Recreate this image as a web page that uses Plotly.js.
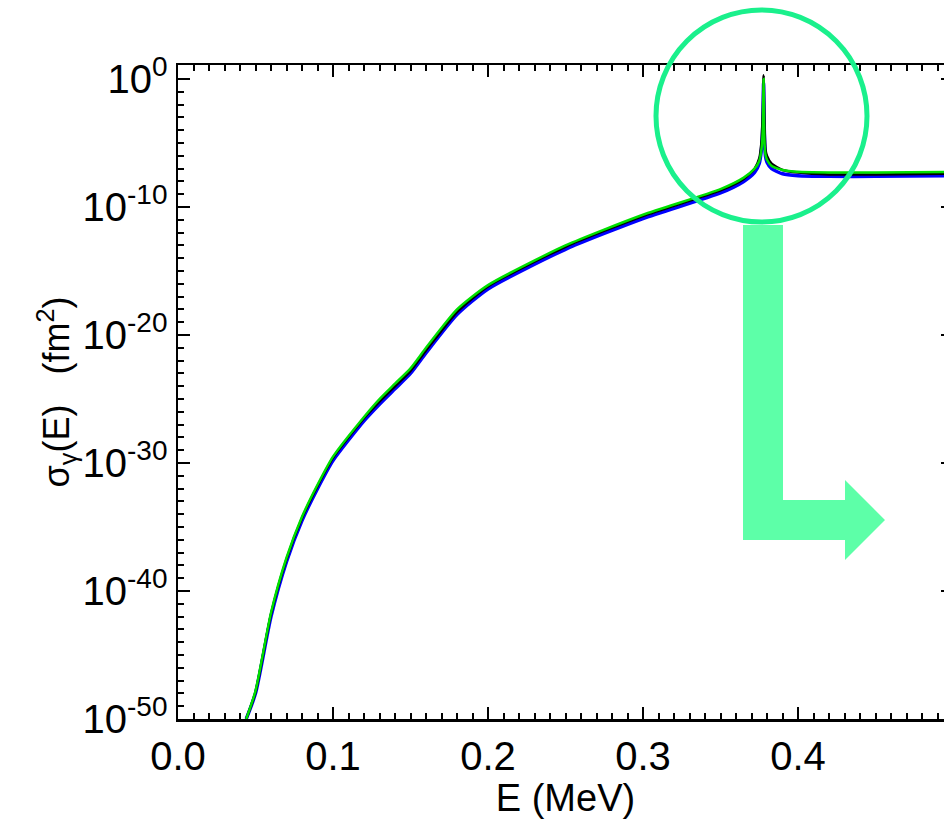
<!DOCTYPE html>
<html>
<head>
<meta charset="utf-8">
<script src="https://cdn.plot.ly/plotly-3.0.1.min.js"></script>
<style>body{margin:0;overflow:hidden;background:#fff}</style>
</head>
<body>
<div id="plot"></div>
<script>
// energies (MeV) and log10 of cross section
var energy = [0.044, 0.05, 0.06, 0.07, 0.08, 0.09, 0.10, 0.12, 0.13, 0.14, 0.15, 0.16, 0.18, 0.20, 0.25, 0.30, 0.35, 0.365, 0.372, 0.375, 0.3765, 0.3773, 0.3778, 0.3781, 0.3785, 0.379, 0.380, 0.383, 0.39, 0.40, 0.42, 0.45, 0.50];
var logBlack = [-50, -47.9, -41.8, -37.5, -34.3, -31.8, -29.6, -26.5, -25.2, -24.0, -22.8, -21.2, -18.2, -16.2, -13.1, -10.7, -8.7, -7.8, -7.0, -6.2, -4.8, -2.5, 0.3, -1.5, -4.0, -5.5, -6.0, -6.6, -7.1, -7.3, -7.45, -7.45, -7.4];
var logBlue = [-50, -48.0, -42.0, -37.7, -34.5, -32.0, -29.8, -26.7, -25.4, -24.2, -23.0, -21.4, -18.4, -16.4, -13.3, -10.9, -8.9, -8.0, -7.3, -6.6, -5.4, -3.5, -0.3, -3.0, -5.0, -6.0, -6.5, -7.0, -7.4, -7.55, -7.6, -7.6, -7.55];
var logGreen = [-50, -47.8, -41.7, -37.4, -34.2, -31.7, -29.5, -26.4, -25.0, -23.8, -22.6, -21.0, -18.0, -16.1, -13.0, -10.6, -8.6, -7.7, -7.0, -6.4, -5.4, -3.8, 0.0, -3.5, -5.2, -5.9, -6.3, -6.8, -7.1, -7.25, -7.3, -7.3, -7.25];
var yTicks = [1, 1e-10, 1e-20, 1e-30, 1e-40, 1e-50];
var yTickText = ['10<sup>0</sup>', '10<sup>-10</sup>', '10<sup>-20</sup>', '10<sup>-30</sup>', '10<sup>-40</sup>', '10<sup>-50</sup>'];
var yMinor = [];
for (var k = 1; k <= 50; k++) { if (k % 10 != 0) yMinor.push(Math.pow(10, -k)); }

function pow10(a) { return a.map(function (v) { return Math.pow(10, v); }); }

var W = 960, H = 833, L = 178, R = 7, T = 65, B = 114;
function px(x) { return (x - L) / (W - L - R); }
function py(y) { return (H - B - y) / (H - T - B); }

var traces = [
  {x: energy, y: pow10(logBlue), mode: 'lines', line: {color: '#0000ff', width: 3.5, shape: 'spline', smoothing: 0.6}, name: 'blue'},
  {x: energy, y: pow10(logBlack), mode: 'lines', line: {color: '#000000', width: 2.5, shape: 'spline', smoothing: 0.6}, name: 'black'},
  {x: energy, y: pow10(logGreen), mode: 'lines', line: {color: '#00e000', width: 2.5, shape: 'spline', smoothing: 0.6}, name: 'green'}
];

var arrowPath = 'M' + px(743) + ',' + py(225) + ' L' + px(783) + ',' + py(225) +
  ' L' + px(783) + ',' + py(500) + ' L' + px(845) + ',' + py(500) +
  ' L' + px(845) + ',' + py(480) + ' L' + px(885) + ',' + py(520) +
  ' L' + px(845) + ',' + py(560) + ' L' + px(845) + ',' + py(540) +
  ' L' + px(743) + ',' + py(540) + ' Z';

var layout = {
  width: W, height: H,
  margin: {l: L, r: R, t: T, b: B},
  showlegend: false,
  paper_bgcolor: '#fff', plot_bgcolor: '#fff',
  font: {family: 'Liberation Sans, Arial, sans-serif', color: '#000'},
  xaxis: {
    range: [0, 0.5], tickvals: [0, 0.1, 0.2, 0.3, 0.4, 0.5],
    ticktext: ['0.0', '0.1', '0.2', '0.3', '0.4', '0.5'],
    ticks: 'inside', ticklen: 12, tickwidth: 2, tickcolor: '#000',
    minor: {dtick: 0.01, ticks: 'inside', ticklen: 6, tickwidth: 2, tickcolor: '#000'},
    showline: true, linewidth: 2.5, linecolor: '#000', mirror: 'allticks',
    showgrid: false, zeroline: false, tickfont: {size: 40},
    title: {text: 'E (MeV)', font: {size: 38}, standoff: 4}
  },
  yaxis: {
    type: 'log', range: [-50, 1.1],
    tickvals: yTicks, ticktext: yTickText,
    ticks: 'inside', ticklen: 12, tickwidth: 2, tickcolor: '#000',
    minor: {tickvals: yMinor, ticks: 'inside', ticklen: 6, tickwidth: 2, tickcolor: '#000'},
    showline: true, linewidth: 2.5, linecolor: '#000', mirror: 'allticks',
    showgrid: false, zeroline: false, tickfont: {size: 40},
    title: {text: 'σ<sub>γ</sub>(E)   (fm<sup>2</sup>)', font: {size: 36}, standoff: 2}
  },
  shapes: [
    {type: 'path', xref: 'paper', yref: 'paper', path: arrowPath,
     fillcolor: '#5dffa8', line: {width: 0}, layer: 'above'},
    {type: 'circle', xref: 'paper', yref: 'paper',
     x0: px(656), x1: px(867), y0: py(222), y1: py(10),
     line: {color: '#1af08c', width: 5}, layer: 'above'}
  ]
};

Plotly.newPlot('plot', traces, layout, {displayModeBar: false, staticPlot: true});
</script>
</body>
</html>
